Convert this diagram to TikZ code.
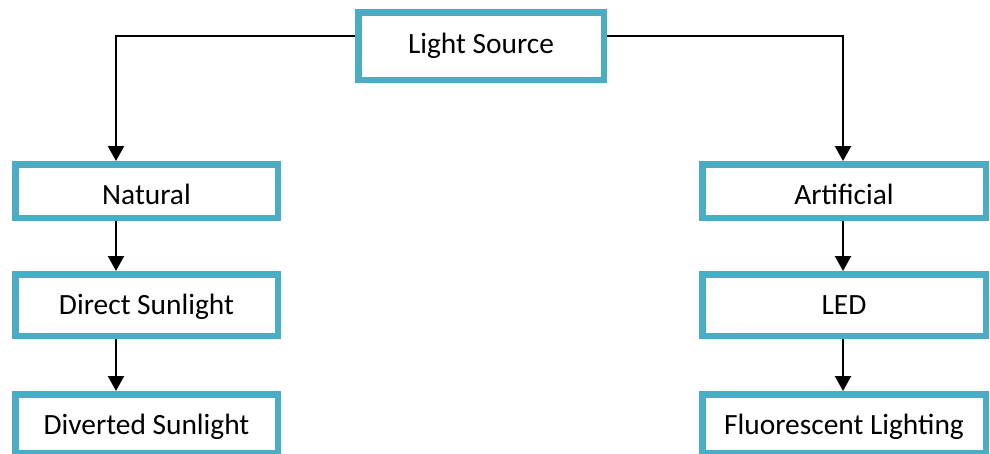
\documentclass[tikz,border=0pt]{standalone}
\usepackage{fontspec}
\setmainfont{Carlito}
\usetikzlibrary{arrows.meta}
\definecolor{boxblue}{HTML}{4BACC6}
\begin{document}
\begin{tikzpicture}[x=1pt,y=-1pt,
  box/.style={draw=boxblue, line width=6.5pt, fill=white, inner sep=0pt, text depth=0pt,
    font=\fontsize{29.4}{35}\selectfont},
  sidebox/.style={box, minimum width=262.5pt},
  rightbox/.style={box, minimum width=283.5pt},
  conn/.style={draw=black, line width=2.2pt},
  arr/.style={conn, -{Triangle[width=16pt,length=15pt]}}]
\useasboundingbox (0,0) rectangle (990,453);

\node[box, minimum width=245.5pt, minimum height=67.5pt, text height=14pt] (ls) at (481,46) {Light Source};

\node[sidebox, minimum height=53.5pt, text height=26pt] (nat) at (146.5,191) {Natural};
\node[sidebox, minimum height=61.5pt, text height=18pt] (dir) at (146.5,305) {Direct Sunlight};
\node[sidebox, minimum height=58.5pt, text height=21pt] (div) at (146.5,423.5) {Diverted Sunlight};

\node[rightbox, minimum height=53.5pt, text height=26pt] (art) at (844,191) {Artificial};
\node[rightbox, minimum height=61.5pt, text height=18pt] (led) at (844,305) {LED};
\node[rightbox, minimum height=58.5pt, text height=21pt] (flu) at (844,423.5) {Fluorescent Lighting};

\coordinate (lt) at (116,36);
\coordinate (rt) at (843,36);

\draw[arr] (ls.west |- lt) -| (lt |- nat.north);
\draw[arr] (ls.east |- rt) -| (rt |- art.north);
\draw[arr] (lt |- nat.south) -- (lt |- dir.north);
\draw[arr] (lt |- dir.south) -- (lt |- div.north);
\draw[arr] (rt |- art.south) -- (rt |- led.north);
\draw[arr] (rt |- led.south) -- (rt |- flu.north);
\end{tikzpicture}
\end{document}
